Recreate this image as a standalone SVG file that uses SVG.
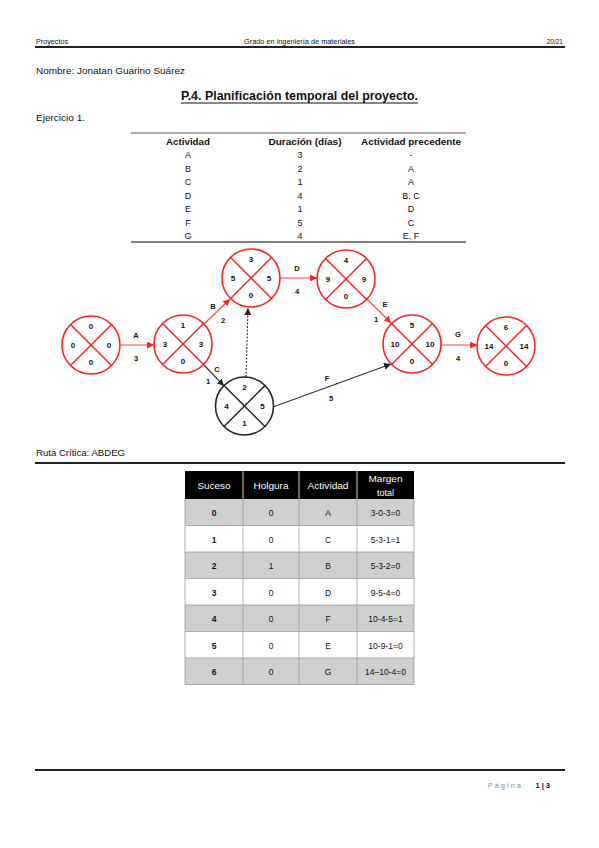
<svg xmlns="http://www.w3.org/2000/svg" width="599" height="848" viewBox="0 0 599 848">
<style>
text{font-family:"Liberation Sans","Open Sans",sans-serif;fill:#111}
.s{font-size:9px}
.b{font-weight:bold}
.c{text-anchor:middle}
.nr{fill:none;stroke:#f22;stroke-width:1.6}
.nk{fill:none;stroke:#222;stroke-width:1.6}
.xr{stroke:#f22;stroke-width:1.4}
.xk{stroke:#222;stroke-width:1.4}
.nl{font-size:8px;font-weight:bold;text-anchor:middle}
.ar{stroke:#f44;stroke-width:1.1;fill:none}
.ak{stroke:#333;stroke-width:1.1;fill:none}
.al{font-size:7.5px;font-weight:bold;text-anchor:middle}
.th{font-size:9px;fill:#fff;text-anchor:middle}
.td{font-size:8.5px;text-anchor:middle}
.g{fill:#cfcfcf}
.w{fill:#fff}
</style>
<defs>
<marker id="mr" markerWidth="8" markerHeight="8" refX="7" refY="3.5" orient="auto" markerUnits="userSpaceOnUse"><path d="M0,0 L7,3.5 L0,7 Z" fill="#f22"/></marker>
<marker id="mk" markerWidth="8" markerHeight="8" refX="7" refY="3.5" orient="auto" markerUnits="userSpaceOnUse"><path d="M0,0 L7,3.5 L0,7 Z" fill="#222"/></marker>
</defs>
<rect width="599" height="848" fill="#fff"/>
<!-- header -->
<text x="36" y="44" font-size="6.5" textLength="32" lengthAdjust="spacingAndGlyphs">Proyectos</text>
<text x="299.5" y="44" font-size="6.5" class="c" textLength="111" lengthAdjust="spacingAndGlyphs">Grado en ingeniería de materiales</text>
<text x="563" y="44" font-size="6.5" text-anchor="end">20/21</text>
<line x1="35" y1="47" x2="565" y2="47" stroke="#222" stroke-width="2"/>
<text x="36" y="74" font-size="9" textLength="149" lengthAdjust="spacingAndGlyphs">Nombre: Jonatan Guarino Suárez</text>
<text x="299.5" y="100" font-size="13" class="b c" textLength="237" lengthAdjust="spacingAndGlyphs">P.4. Planificación temporal del proyecto.</text>
<line x1="181" y1="103" x2="418" y2="103" stroke="#111" stroke-width="1"/>
<text x="36" y="121" font-size="9" textLength="49" lengthAdjust="spacingAndGlyphs">Ejercicio 1.</text>
<!-- table 1 -->
<g id="table1">
<line x1="131" y1="133" x2="466" y2="133" stroke="#555" stroke-width="1"/>
<line x1="131" y1="242" x2="466" y2="242" stroke="#555" stroke-width="1.6"/>
<text x="188" y="145" class="s b c" textLength="44" lengthAdjust="spacingAndGlyphs">Actividad</text>
<text x="305" y="145" class="s b c" textLength="73" lengthAdjust="spacingAndGlyphs">Duración (días)</text>
<text x="411" y="145" class="s b c" textLength="100" lengthAdjust="spacingAndGlyphs">Actividad precedente</text>
<g class="s">
<text x="188" y="158" class="c">A</text><text x="300" y="158" class="c">3</text><text x="411" y="158" class="c">-</text>
<text x="188" y="171.5" class="c">B</text><text x="300" y="171.5" class="c">2</text><text x="411" y="171.5" class="c">A</text>
<text x="188" y="185" class="c">C</text><text x="300" y="185" class="c">1</text><text x="411" y="185" class="c">A</text>
<text x="188" y="198.5" class="c">D</text><text x="300" y="198.5" class="c">4</text><text x="411" y="198.5" class="c">B, C</text>
<text x="188" y="212" class="c">E</text><text x="300" y="212" class="c">1</text><text x="411" y="212" class="c">D</text>
<text x="188" y="225.5" class="c">F</text><text x="300" y="225.5" class="c">5</text><text x="411" y="225.5" class="c">C</text>
<text x="188" y="239" class="c">G</text><text x="300" y="239" class="c">4</text><text x="411" y="239" class="c">E, F</text>
</g>
</g>
<!-- connectors -->
<g id="connectors">
<line class="ar" x1="121" y1="345" x2="154" y2="345" marker-end="url(#mr)"/>
<line class="ar" x1="204" y1="324" x2="230" y2="299" marker-end="url(#mr)"/>
<line class="ak" x1="204" y1="365" x2="224" y2="386" marker-end="url(#mk)"/>
<line class="ak" x1="246" y1="377" x2="248" y2="308" stroke-dasharray="2,1.5" marker-end="url(#mk)"/>
<line class="ar" x1="280" y1="278" x2="317" y2="278" marker-end="url(#mr)"/>
<line class="ar" x1="366" y1="298" x2="391" y2="323" marker-end="url(#mr)"/>
<line class="ak" x1="273" y1="407" x2="391" y2="364" marker-end="url(#mk)"/>
<line class="ar" x1="441" y1="345" x2="477" y2="345" marker-end="url(#mr)"/>
<text x="136" y="338" class="al">A</text><text x="136" y="361" class="al">3</text>
<text x="213" y="309" class="al">B</text><text x="223" y="323" class="al">2</text>
<text x="217" y="372" class="al">C</text><text x="208" y="384" class="al">1</text>
<text x="297" y="271" class="al">D</text><text x="297" y="294" class="al">4</text>
<text x="385" y="307" class="al">E</text><text x="376" y="322" class="al">1</text>
<text x="327" y="381" class="al">F</text><text x="331" y="401" class="al">5</text>
<text x="458" y="337" class="al">G</text><text x="458" y="361" class="al">4</text>
</g>
<!-- nodes -->
<g id="n0" transform="translate(91,345)">
<circle r="29" class="nr"/><line x1="-20.5" y1="-20.5" x2="20.5" y2="20.5" class="xr"/><line x1="20.5" y1="-20.5" x2="-20.5" y2="20.5" class="xr"/>
<text y="-16" class="nl">0</text><text x="-18" y="3" class="nl">0</text><text x="18" y="3" class="nl">0</text><text y="20" class="nl">0</text>
</g>
<g id="n1" transform="translate(183,344)">
<circle r="29" class="nr"/><line x1="-20.5" y1="-20.5" x2="20.5" y2="20.5" class="xr"/><line x1="20.5" y1="-20.5" x2="-20.5" y2="20.5" class="xr"/>
<text y="-16" class="nl">1</text><text x="-18" y="3" class="nl">3</text><text x="18" y="3" class="nl">3</text><text y="20" class="nl">0</text>
</g>
<g id="n2" transform="translate(251,278)">
<circle r="29" class="nr"/><line x1="-20.5" y1="-20.5" x2="20.5" y2="20.5" class="xr"/><line x1="20.5" y1="-20.5" x2="-20.5" y2="20.5" class="xr"/>
<text y="-16" class="nl">3</text><text x="-18" y="3" class="nl">5</text><text x="18" y="3" class="nl">5</text><text y="20" class="nl">0</text>
</g>
<g id="n3" transform="translate(346,279)">
<circle r="29" class="nr"/><line x1="-20.5" y1="-20.5" x2="20.5" y2="20.5" class="xr"/><line x1="20.5" y1="-20.5" x2="-20.5" y2="20.5" class="xr"/>
<text y="-16" class="nl">4</text><text x="-18" y="3" class="nl">9</text><text x="18" y="3" class="nl">9</text><text y="20" class="nl">0</text>
</g>
<g id="n4" transform="translate(244.5,406)">
<circle r="29" class="nk"/><line x1="-20.5" y1="-20.5" x2="20.5" y2="20.5" class="xk"/><line x1="20.5" y1="-20.5" x2="-20.5" y2="20.5" class="xk"/>
<text y="-16" class="nl">2</text><text x="-18" y="3" class="nl">4</text><text x="18" y="3" class="nl">5</text><text y="20" class="nl">1</text>
</g>
<g id="n5" transform="translate(412,344)">
<circle r="29" class="nr"/><line x1="-20.5" y1="-20.5" x2="20.5" y2="20.5" class="xr"/><line x1="20.5" y1="-20.5" x2="-20.5" y2="20.5" class="xr"/>
<text y="-16" class="nl">5</text><text x="-17" y="3" class="nl">10</text><text x="18" y="3" class="nl">10</text><text y="20" class="nl">0</text>
</g>
<g id="n6" transform="translate(506,346)">
<circle r="29" class="nr"/><line x1="-20.5" y1="-20.5" x2="20.5" y2="20.5" class="xr"/><line x1="20.5" y1="-20.5" x2="-20.5" y2="20.5" class="xr"/>
<text y="-16" class="nl">6</text><text x="-17" y="3" class="nl">14</text><text x="18" y="3" class="nl">14</text><text y="20" class="nl">0</text>
</g>
<!-- ruta critica -->
<text x="36" y="456" font-size="9" textLength="89" lengthAdjust="spacingAndGlyphs">Ruta Crítica: ABDEG</text>
<line x1="35" y1="463" x2="565" y2="463" stroke="#222" stroke-width="2"/>
<!-- table 2 -->
<g id="table2">
<rect x="185" y="471" width="229" height="28" fill="#000"/>
<rect x="185" y="499" width="229" height="26.5" class="g"/>
<rect x="185" y="525.5" width="229" height="26.5" class="w"/>
<rect x="185" y="552" width="229" height="26.5" class="g"/>
<rect x="185" y="578.5" width="229" height="26.5" class="w"/>
<rect x="185" y="605" width="229" height="26.5" class="g"/>
<rect x="185" y="631.5" width="229" height="26.5" class="w"/>
<rect x="185" y="658" width="229" height="26.5" class="g"/>
<g stroke="#9a9a9a" stroke-width="0.8">
<line x1="185" y1="499" x2="185" y2="684.5"/><line x1="414" y1="499" x2="414" y2="684.5"/>
<line x1="243" y1="499" x2="243" y2="684.5"/><line x1="299" y1="499" x2="299" y2="684.5"/><line x1="357" y1="499" x2="357" y2="684.5"/>
<line x1="185" y1="525.5" x2="414" y2="525.5"/><line x1="185" y1="552" x2="414" y2="552"/><line x1="185" y1="578.5" x2="414" y2="578.5"/>
<line x1="185" y1="605" x2="414" y2="605"/><line x1="185" y1="631.5" x2="414" y2="631.5"/><line x1="185" y1="658" x2="414" y2="658"/><line x1="185" y1="684.5" x2="414" y2="684.5"/>
</g>
<g stroke="#fff" stroke-width="0.8">
<line x1="243" y1="471" x2="243" y2="499"/><line x1="299" y1="471" x2="299" y2="499"/><line x1="357" y1="471" x2="357" y2="499"/>
</g>
<text x="214" y="489" class="th" textLength="33" lengthAdjust="spacingAndGlyphs">Suceso</text>
<text x="271" y="489" class="th" textLength="35" lengthAdjust="spacingAndGlyphs">Holgura</text>
<text x="328" y="489" class="th" textLength="41" lengthAdjust="spacingAndGlyphs">Actividad</text>
<text x="385.5" y="482" class="th" textLength="34" lengthAdjust="spacingAndGlyphs">Margen</text>
<text x="385.5" y="496" class="th">total</text>
<g class="td">
<text x="214" y="516" class="b">0</text><text x="271" y="516">0</text><text x="328" y="516">A</text><text x="385.5" y="516">3-0-3=0</text>
<text x="214" y="542.5" class="b">1</text><text x="271" y="542.5">0</text><text x="328" y="542.5">C</text><text x="385.5" y="542.5">5-3-1=1</text>
<text x="214" y="569" class="b">2</text><text x="271" y="569">1</text><text x="328" y="569">B</text><text x="385.5" y="569">5-3-2=0</text>
<text x="214" y="595.5" class="b">3</text><text x="271" y="595.5">0</text><text x="328" y="595.5">D</text><text x="385.5" y="595.5">9-5-4=0</text>
<text x="214" y="622" class="b">4</text><text x="271" y="622">0</text><text x="328" y="622">F</text><text x="385.5" y="622">10-4-5=1</text>
<text x="214" y="648.5" class="b">5</text><text x="271" y="648.5">0</text><text x="328" y="648.5">E</text><text x="385.5" y="648.5">10-9-1=0</text>
<text x="214" y="675" class="b">6</text><text x="271" y="675">0</text><text x="328" y="675">G</text><text x="385.5" y="675">14–10-4=0</text>
</g>
</g>
<!-- footer -->
<line x1="35" y1="770" x2="565" y2="770" stroke="#222" stroke-width="2"/>
<text x="488" y="788" font-size="7" style="fill:#888" letter-spacing="2.2">Página</text>
<text x="550" y="788" font-size="7.5" class="b" text-anchor="end">1 | 3</text>
</svg>
